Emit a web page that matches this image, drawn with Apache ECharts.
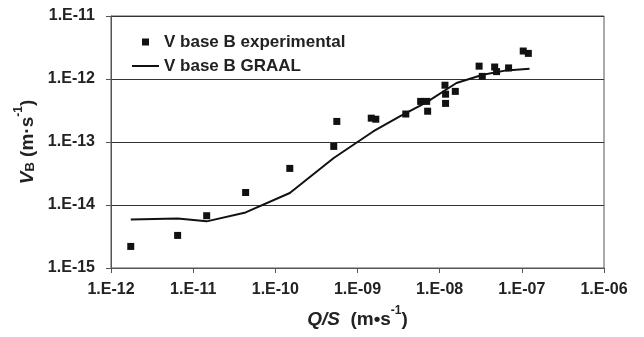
<!DOCTYPE html>
<html>
<head>
<meta charset="utf-8">
<script src="https://cdn.jsdelivr.net/npm/echarts@6/dist/echarts.min.js"></script>
<style>
html,body{margin:0;padding:0;background:#fff;}
#c{width:644px;height:337px;}
</style>
</head>
<body>
<div id="c"></div>
<script>
const expX = [1.74e-12, 6.47e-12, 1.46e-11, 4.35e-11, 1.50e-10, 5.14e-10, 5.60e-10, 1.47e-9, 1.67e-9, 3.87e-9, 5.87e-9, 6.95e-9, 7.14e-9, 1.16e-8, 1.18e-8, 1.18e-8, 1.55e-8, 3.02e-8, 3.30e-8, 4.67e-8, 4.93e-8, 6.90e-8, 1.04e-7, 1.20e-7];
const expY = [2.20e-15, 3.29e-15, 6.76e-15, 1.58e-14, 3.81e-14, 8.51e-14, 2.12e-13, 2.39e-13, 2.30e-13, 2.78e-13, 4.41e-13, 4.41e-13, 3.08e-13, 7.97e-13, 5.74e-13, 4.10e-13, 6.36e-13, 1.60e-12, 1.10e-12, 1.55e-12, 1.31e-12, 1.50e-12, 2.78e-12, 2.55e-12];
const graalX = [1.74e-12, 6.47e-12, 1.46e-11, 4.35e-11, 1.50e-10, 5.14e-10, 1.55e-9, 3.27e-9, 6.89e-9, 1.60e-8, 3.36e-8, 6.47e-8, 1.24e-7];
const graalY = [5.91e-15, 6.13e-15, 5.50e-15, 7.63e-15, 1.55e-14, 5.57e-14, 1.47e-13, 2.55e-13, 4.25e-13, 8.64e-13, 1.17e-12, 1.37e-12, 1.46e-12];
const seriesNames = ['V base B experimental', 'V base B GRAAL'];
const xRange = [1e-12, 1e-6];
const yRange = [1e-15, 1e-11];

const FONT = '"Liberation Sans", Arial, sans-serif';
function fmt(v){
  const e = Math.round(Math.log10(v));
  const a = Math.abs(e);
  return '1.E' + (e < 0 ? '-' : '+') + (a < 10 ? '0' + a : a);
}
const chart = echarts.init(document.getElementById('c'), null, {renderer:'canvas'});
const titleRich = {
  it: {fontSize: 19, fontWeight: 'bold', fontStyle: 'italic', fontFamily: FONT, color: '#222', lineHeight: 24, verticalAlign: 'bottom'},
  sub: {fontSize: 13, fontWeight: 'bold', fontFamily: FONT, color: '#222', lineHeight: 13, verticalAlign: 'bottom'},
  n: {fontSize: 19, fontWeight: 'bold', fontFamily: FONT, color: '#222', lineHeight: 24, verticalAlign: 'bottom'},
  sup: {fontSize: 12, fontWeight: 'bold', fontFamily: FONT, color: '#222', lineHeight: 12, verticalAlign: 'top'}
};
chart.setOption({
  animation: false,
  backgroundColor: '#fff',
  grid: {left: 111, top: 16, right: 40, bottom: 69, show: true, borderColor: '#555', borderWidth: 1, backgroundColor: 'transparent'},
  legend: {
    orient: 'vertical', left: 132, top: 33, padding: 0,
    itemWidth: 27, itemHeight: 7, itemGap: 6,
    textStyle: {fontFamily: FONT, fontWeight: 'bold', fontSize: 17, color: '#222', lineHeight: 18},
    data: [
      {name: seriesNames[0], icon: 'path://M0,0H10V10H0Z', itemStyle: {color: '#111', opacity: 1}},
      {name: seriesNames[1], icon: 'path://M0,0H54V4H0Z', itemStyle: {color: '#111', opacity: 1}}
    ]
  },
  xAxis: {
    type: 'log', logBase: 10, min: xRange[0], max: xRange[1],
    name: '{it|Q/S}{n|  (m•s}{sup|-1}{n|)}',
    nameLocation: 'middle', nameGap: 37,
    nameTextStyle: {rich: titleRich},
    axisLine: {show: true, lineStyle: {color: '#555', width: 1}},
    axisTick: {show: true, inside: false, length: 5, lineStyle: {color: '#555'}},
    minorTick: {show: false},
    splitLine: {show: false},
    axisLabel: {formatter: fmt, fontFamily: FONT, fontWeight: 'bold', fontSize: 16, color: '#222', margin: 14}
  },
  yAxis: {
    type: 'log', logBase: 10, min: yRange[0], max: yRange[1],
    name: '{it|V}{sub|B}{n| (m·s}{sup|-1}{n|)}',
    nameLocation: 'middle', nameGap: 74, nameRotate: 90,
    nameTextStyle: {rich: titleRich},
    axisLine: {show: true, lineStyle: {color: '#555', width: 1}},
    axisTick: {show: true, inside: false, length: 5, lineStyle: {color: '#555'}},
    minorTick: {show: false},
    splitLine: {show: true, lineStyle: {color: '#333', width: 1}},
    axisLabel: {formatter: fmt, fontFamily: FONT, fontWeight: 'bold', fontSize: 16, color: '#222', margin: 16}
  },
  series: [
    {
      name: seriesNames[0], type: 'scatter',
      symbol: 'rect', symbolSize: 7,
      itemStyle: {color: '#111', opacity: 1},
      data: expX.map((x, i) => [x, expY[i]]),
      z: 3
    },
    {
      name: seriesNames[1], type: 'line',
      symbol: 'none', showSymbol: false,
      lineStyle: {color: '#111', width: 2},
      itemStyle: {color: '#111'},
      data: graalX.map((x, i) => [x, graalY[i]]),
      z: 2
    }
  ]
});
</script>
</body>
</html>
